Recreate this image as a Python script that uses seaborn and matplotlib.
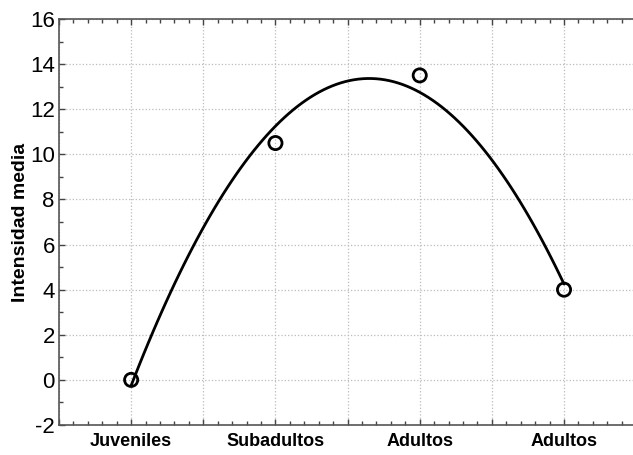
import numpy as np
import pandas as pd
import seaborn as sns
import matplotlib.pyplot as plt
from matplotlib.ticker import FixedLocator, MultipleLocator

# data
grupos = ["Juveniles", "Subadultos", "Adultos", "Adultos"]
posicion = [0, 1, 2, 3]
intensidad = [0.0, 10.5, 13.5, 4.0]

df = pd.DataFrame({"pos": posicion, "intensidad": intensidad})

sns.set_style("white")
plt.rcParams['font.family'] = ['Liberation Sans', 'DejaVu Sans']
plt.rcParams['axes.unicode_minus'] = False

fig = plt.figure(figsize=(6.33, 4.55), dpi=100)
ax = fig.add_axes([59 / 633, 30 / 455, 1 - 59 / 633, 406 / 455])

# quadratic fit + open circles
sns.regplot(
    data=df, x="pos", y="intensidad", order=2, ci=None, ax=ax,
    scatter_kws={"s": 90, "facecolors": "none", "edgecolors": "black",
                 "linewidths": 2, "alpha": 1, "zorder": 3},
    line_kws={"color": "black", "lw": 2},
)

ax.set_xlim(-0.5, 3.478)
ax.set_ylim(-2, 16)

# x ticks: major every 0.5, labels only at categories
xmaj = np.arange(-0.5, 3.5, 0.5)
ax.xaxis.set_major_locator(FixedLocator(xmaj))
labels = []
for v in xmaj:
    if v in posicion:
        labels.append(grupos[posicion.index(v)])
    else:
        labels.append("")
ax.set_xticklabels(labels, fontsize=13, fontweight="bold")
ax.xaxis.set_minor_locator(MultipleLocator(0.1))

ax.yaxis.set_major_locator(MultipleLocator(2))
ax.yaxis.set_minor_locator(MultipleLocator(1))
ax.tick_params(axis="y", labelsize=16, pad=3)

ax.tick_params(which="both", direction="in", top=True, bottom=True, left=True,
               right=False, color="#444444", width=1, labelcolor="black")
ax.tick_params(axis="x", which="major", length=4, pad=6)
ax.tick_params(axis="y", which="major", length=4)
ax.tick_params(which="minor", length=3)

ax.grid(True, which="major", linestyle=":", color="#bbbbbb", linewidth=0.9)

for s in ["left", "bottom", "top"]:
    ax.spines[s].set_color("#555555")
    ax.spines[s].set_linewidth(1.2)
ax.spines["right"].set_visible(False)

ax.set_xlabel("")
ax.set_ylabel("Intensidad media", fontsize=14, fontweight="bold", labelpad=1,
              color="black")

fig.savefig("out.png", dpi=100)
